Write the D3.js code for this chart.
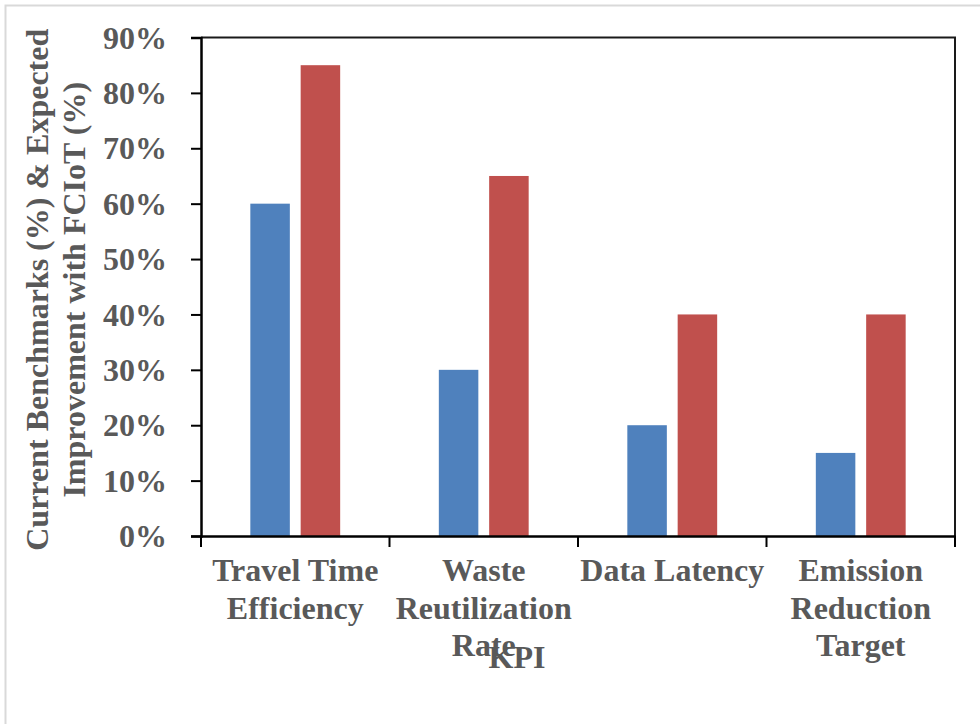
<!DOCTYPE html>
<html>
<head>
<meta charset="utf-8">
<script src="https://cdn.jsdelivr.net/npm/d3@7"></script>
<style>
  html, body { margin: 0; padding: 0; background: #fff; }
  svg { display: block; }
  text { font-family: "Liberation Serif", "Times New Roman", serif; font-weight: bold; fill: #595959; }
</style>
</head>
<body>
<div id="chart"></div>
<script>
const categories = [
    ["Travel Time", "Efficiency"],
    ["Waste", "Reutilization", "Rate"],
    ["Data Latency"],
    ["Emission", "Reduction", "Target"]
];
const currentValues = [60, 30, 20, 15];
const expectedValues = [85, 65, 40, 40];
const seriesColors = ["#4f81bd", "#c0504d"];
const yTicks = [0, 10, 20, 30, 40, 50, 60, 70, 80, 90];

const width = 980;
const height = 724;
const margin = { left: 201, right: 25, top: 37.5, bottom: 188 };
const fontSize = 32;

const svg = d3.select("#chart")
    .append("svg")
    .attr("width", width)
    .attr("height", height);

// outer chart frame, runs past the window edge
svg.append("rect")
    .attr("x", 5.5)
    .attr("y", 5.5)
    .attr("width", 1100)
    .attr("height", 900)
    .attr("fill", "none")
    .attr("stroke", "#d9d9d9")
    .attr("stroke-width", 2);

const x = d3.scaleBand()
    .domain(d3.range(categories.length))
    .range([margin.left, width - margin.right]);

const y = d3.scaleLinear()
    .domain([0, 90])
    .range([height - margin.bottom, margin.top]);

const inner = d3.scaleBand()
    .domain([0, 1])
    .range([0, x.bandwidth()])
    .paddingInner(0.215)
    .paddingOuter(0.98);

const data = categories.map((c, i) => ({ i, values: [currentValues[i], expectedValues[i]] }));

const groups = svg.selectAll("g.cat")
    .data(data)
    .enter()
    .append("g")
    .attr("class", "cat")
    .attr("transform", d => `translate(${x(d.i)},0)`);

groups.selectAll("rect")
    .data(d => d.values.map((v, s) => ({ v, s })))
    .enter()
    .append("rect")
    .attr("x", d => inner(d.s))
    .attr("width", inner.bandwidth())
    .attr("y", d => y(d.v))
    .attr("height", d => y(0) - y(d.v))
    .attr("fill", d => seriesColors[d.s]);

// frame top + right
svg.append("path")
    .attr("d", `M${margin.left},${y(90)}H${width - margin.right}V${y(0)}`)
    .attr("fill", "none")
    .attr("stroke", "#1a1a1a")
    .attr("stroke-width", 2);

const yAxis = svg.append("g")
    .attr("transform", `translate(${margin.left},0)`)
    .call(d3.axisLeft(y).tickValues(yTicks).tickFormat(d => d + "%").tickSize(10).tickPadding(24));
yAxis.select(".domain").attr("stroke", "#000").attr("stroke-width", 2.5);
yAxis.selectAll(".tick line").attr("stroke", "#000").attr("stroke-width", 2);
yAxis.selectAll("text")
    .style("font-family", "'Liberation Serif', serif")
    .style("font-weight", "bold")
    .style("font-size", fontSize + "px")
    .attr("fill", "#595959")
    .attr("dy", "0.33em");

const xAxis = svg.append("g")
    .attr("transform", `translate(0,${y(0)})`)
    .call(d3.axisBottom(x).tickValues([]).tickSizeOuter(0));
xAxis.select(".domain").attr("stroke", "#000").attr("stroke-width", 2.5);

const boundaries = d3.range(categories.length + 1).map(i => margin.left + i * x.bandwidth());
svg.selectAll("line.xtick")
    .data(boundaries)
    .enter()
    .append("line")
    .attr("x1", d => d).attr("x2", d => d)
    .attr("y1", y(0)).attr("y2", y(0) + 11)
    .attr("stroke", "#000")
    .attr("stroke-width", 2);

svg.selectAll("text.xlabel")
    .data(categories)
    .enter()
    .append("text")
    .attr("class", "xlabel")
    .attr("text-anchor", "middle")
    .style("font-size", fontSize + "px")
    .each(function (lines, i) {
        d3.select(this).selectAll("tspan")
            .data(lines)
            .enter()
            .append("tspan")
            .attr("x", x(i) + x.bandwidth() / 2)
            .attr("y", (d, j) => 581 + j * 37.5)
            .text(d => d);
    });

svg.append("text")
    .attr("x", 517)
    .attr("y", 668)
    .attr("text-anchor", "middle")
    .style("font-size", fontSize + "px")
    .text("KPI");

const yTitle = svg.append("text")
    .attr("transform", `translate(0,${(y(0) + y(90)) / 2 + 3}) rotate(-90)`)
    .attr("text-anchor", "middle")
    .style("font-size", fontSize + "px");
yTitle.append("tspan").attr("x", 0).attr("y", 48).text("Current Benchmarks (%) & Expected");
yTitle.append("tspan").attr("x", 0).attr("y", 85).text("Improvement with FCIoT (%)");
</script>
</body>
</html>
